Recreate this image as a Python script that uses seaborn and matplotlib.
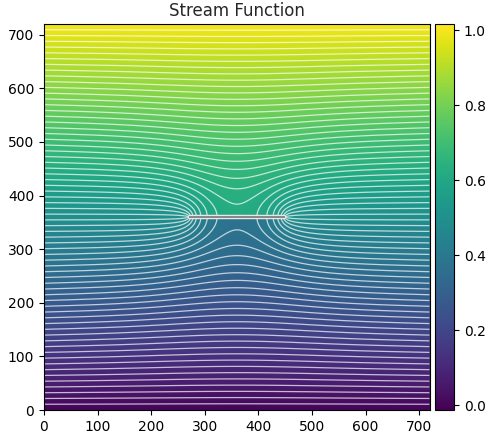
import numpy as np
import matplotlib
matplotlib.use("Agg")
import matplotlib.pyplot as plt
import matplotlib.patheffects as pe
import seaborn as sns

# Problem set-up: square channel, stream function fixed on the walls,
# thin plate across the middle (no normal gradient on its faces).
domain_size = 720.0
psi_bottom = 0.0
psi_top = 1.0
plate_y = 360.0
plate_x = [270.0, 450.0]

# Display settings
n_contour_levels = 68
color_limits = [-0.0125, 1.016]
axis_ticks = [0, 100, 200, 300, 400, 500, 600, 700]
cbar_ticks = [0.0, 0.2, 0.4, 0.6, 0.8, 1.0]
title = "Stream Function"

# ---------------------------------------------------------------------------
# Finite-volume Laplace solve (cell-centred grid, conjugate gradient)
# ---------------------------------------------------------------------------
n = 360
h = domain_size / n
xc = (np.arange(n) + 0.5) * h
yc = (np.arange(n) + 0.5) * h

cv = np.ones((n - 1, n))              # faces between row j and j+1
ch = np.ones((n, n - 1))              # faces between column i and i+1
row_cut = np.where((yc[:-1] < plate_y) & (yc[1:] > plate_y))[0]
col_cut = (xc >= plate_x[0]) & (xc <= plate_x[1])
cv[row_cut[0], col_cut] = 0.0

side_values = psi_bottom + (psi_top - psi_bottom) * yc / domain_size


def apply_op(u):
    out = np.zeros_like(u)
    d = cv * (u[1:, :] - u[:-1, :])
    out[:-1, :] -= d
    out[1:, :] += d
    d = ch * (u[:, 1:] - u[:, :-1])
    out[:, :-1] -= d
    out[:, 1:] += d
    out[0, :] += 2 * u[0, :]
    out[-1, :] += 2 * u[-1, :]
    out[:, 0] += 2 * u[:, 0]
    out[:, -1] += 2 * u[:, -1]
    return out


b = np.zeros((n, n))
b[0, :] += 2 * psi_bottom
b[-1, :] += 2 * psi_top
b[:, 0] += 2 * side_values
b[:, -1] += 2 * side_values

psi = np.tile(side_values[:, None], (1, n))
r = b - apply_op(psi)
p = r.copy()
rs = np.sum(r * r)
for _ in range(6000):
    Ap = apply_op(p)
    alpha = rs / np.sum(p * Ap)
    psi += alpha * p
    r -= alpha * Ap
    rs_new = np.sum(r * r)
    if np.sqrt(rs_new) < 1e-9:
        break
    p = r + (rs_new / rs) * p
    rs = rs_new

# ---------------------------------------------------------------------------
# Plot
# ---------------------------------------------------------------------------
sns.set_style("ticks")
plt.rcParams["font.family"] = ["DejaVu Sans"]
plt.rcParams["axes.edgecolor"] = "black"
plt.rcParams["xtick.color"] = "black"
plt.rcParams["ytick.color"] = "black"

cmap = sns.color_palette("viridis", as_cmap=True)

fig = plt.figure(figsize=(4.92, 4.33), dpi=100)
ax = fig.add_axes([44 / 492, 23 / 433, 386 / 492, 386 / 433])
cax = fig.add_axes([435 / 492, 23 / 433, 19 / 492, 386 / 433])

im = ax.imshow(psi, origin="lower", extent=[0, domain_size, 0, domain_size],
               cmap=cmap, vmin=color_limits[0], vmax=color_limits[1],
               interpolation="bilinear")
levels = np.linspace(psi_bottom, psi_top, n_contour_levels)
ax.contour(xc, yc, psi, levels=levels, colors="white",
           linewidths=0.9, alpha=0.7)

# the plate itself
ax.plot(plate_x, [plate_y, plate_y], color="#7f7f7f", lw=1.3,
        solid_capstyle="butt",
        path_effects=[pe.withStroke(linewidth=3.2, foreground="#e8e8e8")])

# faint boundary streamlines on the walls
for yb in (0.0, domain_size):
    ax.axhline(yb, color="white", lw=0.8, ls=(0, (1, 3)), alpha=0.6)

ax.set_xlim(0, domain_size)
ax.set_ylim(0, domain_size)
ax.set_xticks(axis_ticks)
ax.set_yticks(axis_ticks)
ax.tick_params(labelsize=10, length=3.5)
ax.set_title(title, fontsize=12)

cb = fig.colorbar(im, cax=cax)
cb.set_ticks(cbar_ticks)
cb.ax.tick_params(labelsize=10, length=3.5)
cb.outline.set_edgecolor("black")

fig.savefig("out.png", dpi=100)
